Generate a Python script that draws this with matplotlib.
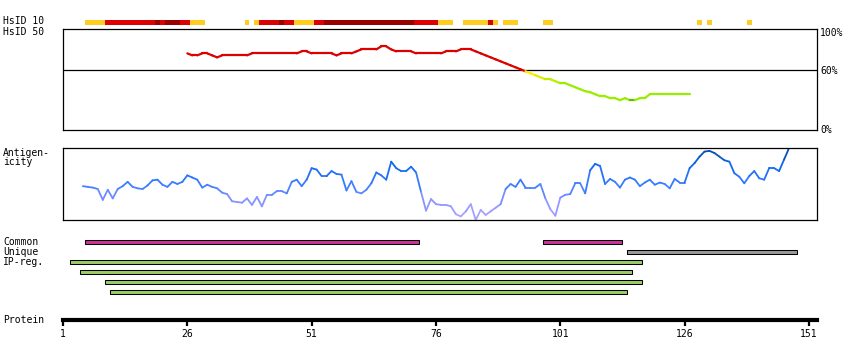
import matplotlib
matplotlib.use("Agg")
import matplotlib.pyplot as plt
import numpy as np
from matplotlib.collections import LineCollection
from matplotlib.colors import LinearSegmentedColormap

# ---- data ----
# HsID 10 strip: (first residue, last residue, level)  level 0=yellow 1=red 2=dark red
hsid10_segments = [
    (6, 9, 0), (10, 19, 1), (20, 20, 2), (21, 21, 1), (22, 24, 2), (25, 26, 1), (27, 29, 0),
    (38, 38, 0), (40, 40, 0), (41, 44, 1), (45, 45, 2), (46, 47, 1), (48, 51, 0),
    (52, 53, 1), (54, 71, 2), (72, 76, 1), (77, 79, 0), (82, 86, 0), (87, 87, 1),
    (88, 88, 0), (90, 92, 0), (98, 99, 0), (129, 129, 0), (131, 131, 0), (139, 139, 0),
]

# HsID 50 identity (%) per residue, residues 26..127
hsid50_start = 26
hsid50 = [77, 75, 75, 77, 77, 75, 73, 75, 75, 75, 75, 75, 75, 77, 77, 77, 77, 77, 77, 77,
          77, 77, 77, 79, 79, 77, 77, 77, 77, 77, 75, 77, 77, 77, 79, 81, 81, 81, 81, 84,
          84, 81, 79, 79, 79, 79, 77, 77, 77, 77, 77, 77, 79, 79, 79, 81, 81, 81, 79, 77,
          75, 73, 71, 69, 67, 65, 63, 61, 59, 57, 55, 53, 51, 51, 49, 47, 47, 45, 43, 41,
          39, 38, 36, 34, 34, 32, 32, 30, 32, 30, 30, 32, 32, 36, 36, 36, 36, 36, 36, 36,
          36, 36]

# antigenicity (relative) per residue, residues 5..147
antigen_start = 5
antigen = [0.47, 0.46, 0.45, 0.43, 0.28, 0.42, 0.30, 0.43, 0.47, 0.53, 0.46, 0.44, 0.43, 0.48,
           0.55, 0.56, 0.49, 0.46, 0.53, 0.50, 0.53, 0.62, 0.59, 0.56, 0.45, 0.49, 0.46, 0.44,
           0.38, 0.36, 0.26, 0.25, 0.24, 0.30, 0.21, 0.32, 0.19, 0.35, 0.35, 0.40, 0.40, 0.37,
           0.53, 0.56, 0.47, 0.56, 0.72, 0.70, 0.61, 0.61, 0.68, 0.64, 0.63, 0.41, 0.54, 0.39,
           0.37, 0.42, 0.51, 0.66, 0.62, 0.56, 0.81, 0.72, 0.68, 0.68, 0.74, 0.66, 0.39, 0.13,
           0.29, 0.22, 0.21, 0.21, 0.19, 0.08, 0.05, 0.12, 0.22, 0.00, 0.14, 0.07, 0.12, 0.17,
           0.22, 0.43, 0.50, 0.46, 0.56, 0.45, 0.45, 0.45, 0.50, 0.30, 0.15, 0.06, 0.31, 0.35,
           0.36, 0.51, 0.51, 0.37, 0.69, 0.78, 0.75, 0.50, 0.57, 0.53, 0.45, 0.56, 0.59, 0.56,
           0.47, 0.52, 0.56, 0.49, 0.52, 0.50, 0.44, 0.57, 0.52, 0.52, 0.72, 0.79, 0.88, 0.95,
           0.96, 0.93, 0.88, 0.83, 0.81, 0.65, 0.60, 0.51, 0.61, 0.68, 0.58, 0.56, 0.72, 0.72,
           0.68, 0.84, 1.00]

# feature bars: (row, first residue, last residue, kind)
features = [
    (0, 6, 72, "common"), (0, 98, 113, "common"),
    (1, 115, 148, "unique"),
    (2, 3, 117, "ipreg"), (3, 5, 115, "ipreg"), (4, 10, 117, "ipreg"), (5, 11, 114, "ipreg"),
]
row_labels = ["Common", "Unique", "IP-reg."]
protein_ticks = [1, 26, 51, 76, 101, 126, 151]

# ---- layout helpers (pixels) ----
W, H = 850, 360
fig = plt.figure(figsize=(W / 100, H / 100), dpi=100)
XMIN, XMAX = 1, 1 + 754 / 4.973


def px_axes(x0, y0, x1, y1):
    return fig.add_axes([x0 / W, 1 - y1 / H, (x1 - x0) / W, (y1 - y0) / H])


def label(x, y, s, **kw):
    fig.text(x / W, 1 - y / H, s, family="DejaVu Sans Mono", fontsize=7,
             va="center", ha=kw.pop("ha", "left"), **kw)


def blank(ax):
    ax.set_xlim(XMIN, XMAX)
    ax.set_xticks([])
    ax.set_yticks([])
    for s in ax.spines.values():
        s.set_visible(False)
    ax.patch.set_alpha(0)


# ---- HsID 10 strip ----
ax10 = px_axes(63, 19.5, 817, 25)
blank(ax10)
strip_cols = ["#ffcc22", "#dd0000", "#990000"]
for a, b, lv in hsid10_segments:
    ax10.barh(0.5, b - a + 1, left=a - 0.5, height=1, color=strip_cols[lv], linewidth=0)
ax10.set_ylim(0, 1)

# ---- HsID 50 panel ----
ax50 = px_axes(63, 29, 817, 130)
ax50.set_xlim(XMIN, XMAX)
ax50.set_ylim(0, 101.5)
ax50.set_xticks([])
ax50.set_yticks([])
for s in ax50.spines.values():
    s.set_linewidth(0.9)
ax50.axhline(60, color="black", lw=0.9)
r50 = np.arange(hsid50_start, hsid50_start + len(hsid50))
v50 = np.array(hsid50, dtype=float)


def id_color(v):
    if v >= 60:
        return "#dd0000"
    if v >= 56:
        return "#ffee00"
    if v >= 52:
        return "#ddee00"
    if v >= 48:
        return "#bbee00"
    if v > 30:
        return "#99ee00"
    return "#66bb00"


pts = np.column_stack([r50, v50]).reshape(-1, 1, 2)
segs = np.concatenate([pts[:-1], pts[1:]], axis=1)
cols = [id_color((v50[i] + v50[i + 1]) / 2) for i in range(len(v50) - 1)]
ax50.add_collection(LineCollection(segs, colors=cols, linewidths=1.6, capstyle="round"))

# ---- Antigenicity panel ----
axag = px_axes(63, 148, 817, 220)
axag.set_xlim(XMIN, XMAX)
axag.set_ylim(0, 1)
axag.set_xticks([])
axag.set_yticks([])
for s in axag.spines.values():
    s.set_linewidth(0.9)
rag = np.arange(antigen_start, antigen_start + len(antigen))
vag = np.array(antigen)
cmap = LinearSegmentedColormap.from_list(
    "ag", [(0, "#b6aaff"), (0.3, "#8090ff"), (0.5, "#3a7dff"), (0.75, "#1168ee"), (1, "#004a9e")])
pts = np.column_stack([rag, vag]).reshape(-1, 1, 2)
segs = np.concatenate([pts[:-1], pts[1:]], axis=1)
mid = (vag[:-1] + vag[1:]) / 2
axag.add_collection(LineCollection(segs, colors=cmap(mid), linewidths=1.3, capstyle="round"))

# ---- feature bars ----
axf = px_axes(63, 236, 817, 298)
blank(axf)
axf.set_ylim(298, 236)
fcols = {"common": "#cc3399", "unique": "#999999", "ipreg": "#99cc66"}
for row, a, b, kind in features:
    axf.barh(242.3 + 10 * row, b - a + 1, left=a - 0.5, height=4,
             color=fcols[kind], edgecolor="black", linewidth=0.75)

# ---- protein axis ----
axp = px_axes(63, 305, 817, 319.5)
axp.set_xlim(XMIN, XMAX)
axp.set_yticks([])
for k in ["top", "left", "right"]:
    axp.spines[k].set_visible(False)
axp.spines["bottom"].set_linewidth(3)
axp.set_xticks(protein_ticks)
axp.tick_params(axis="x", length=4, width=1.6, pad=2.5, labelsize=7)
for t in axp.get_xticklabels():
    t.set_family("DejaVu Sans Mono")
axp.patch.set_alpha(0)

# ---- text labels ----
label(3, 21.5, "HsID 10")
label(3, 32, "HsID 50")
label(3, 153, "Antigen-")
label(3, 162, "icity")
for i, s in enumerate(row_labels):
    label(3, 242 + 10 * i, s)
label(3, 320, "Protein")
label(820, 33, "100%")
label(820, 70.5, "60%")
label(820, 130, "0%")

fig.savefig("out.png", dpi=100)
